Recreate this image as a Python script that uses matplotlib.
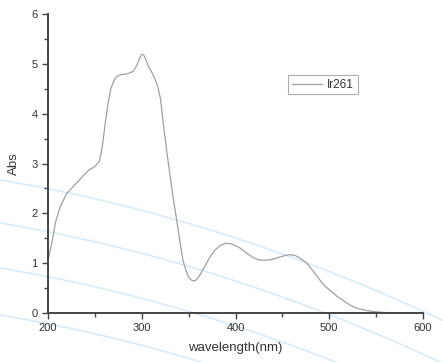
import numpy as np
import matplotlib
matplotlib.use("Agg")
import matplotlib.pyplot as plt
from matplotlib.ticker import MultipleLocator

plt.rcParams['font.family'] = ['Liberation Sans', 'DejaVu Sans']

wavelength = [200, 204, 208, 213, 220, 230, 236, 243, 250, 255, 258, 261, 264, 267, 270,
              273, 277, 282, 286, 291, 295, 298, 300, 302, 304, 307, 311, 314, 317, 320,
              323, 327, 330, 334, 337, 341, 344, 347, 350, 353, 355, 358, 362, 367, 373,
              378, 384, 390, 395, 400, 405, 412, 419, 426, 433, 440, 447, 454, 459, 464,
              469, 476, 483, 490, 496, 501, 508, 515, 522, 529, 535, 540, 547, 555, 565,
              580, 600]
absorb = [1.05, 1.4, 1.82, 2.13, 2.4, 2.6, 2.72, 2.86, 2.94, 3.05, 3.35, 3.8, 4.2, 4.5, 4.65,
          4.74, 4.78, 4.79, 4.81, 4.85, 4.98, 5.12, 5.19, 5.18, 5.1, 4.95, 4.82, 4.7, 4.55, 4.3,
          3.8, 3.2, 2.78, 2.25, 1.9, 1.4, 1.06, 0.86, 0.72, 0.66, 0.64, 0.66, 0.76, 0.93, 1.13,
          1.26, 1.36, 1.4, 1.39, 1.35, 1.3, 1.2, 1.11, 1.06, 1.06, 1.08, 1.12, 1.16, 1.17, 1.15,
          1.1, 1.0, 0.84, 0.66, 0.53, 0.45, 0.34, 0.25, 0.16, 0.1, 0.07, 0.05, 0.03, 0.015, 0.005,
          0.0, 0.0]
series_name = "Ir261"

W, H = 443, 362
fig = plt.figure(figsize=(W / 100, H / 100), dpi=100)

# decorative background arcs (pixel coordinates)
bg = fig.add_axes([0, 0, 1, 1], zorder=0)
bg.set_xlim(0, W)
bg.set_ylim(H, 0)
bg.axis('off')
px = np.linspace(0, W, 200)
for y0 in [180, 223, 268, 315]:
    bg.plot(px, y0 + 0.1655 * px + 0.000342 * px ** 2, color='#d9ebf6', lw=1.2)

ax = fig.add_axes([48 / W, 1 - 313 / H, 375 / W, 299 / H], zorder=1)
ax.patch.set_alpha(0)
ax.plot(wavelength, absorb, color='#a0a0a0', lw=0.9, label=series_name)
ax.set_xlim(200, 600)
ax.set_ylim(0, 6)
ax.xaxis.set_major_locator(MultipleLocator(100))
ax.xaxis.set_minor_locator(MultipleLocator(50))
ax.yaxis.set_major_locator(MultipleLocator(1))
ax.yaxis.set_minor_locator(MultipleLocator(0.5))
for s in ['top', 'right']:
    ax.spines[s].set_visible(False)
for s in ['left', 'bottom']:
    ax.spines[s].set_color('#444444')
    ax.spines[s].set_linewidth(1.4)
ax.tick_params(which='major', direction='out', length=4, width=1, colors='#444444',
               labelsize=8, labelcolor='#333333')
ax.tick_params(which='minor', direction='out', length=3, width=1, colors='#444444')
ax.set_xlabel('wavelength(nm)', fontsize=9.5, color='#333333', labelpad=6)
ax.set_ylabel('Abs', fontsize=9.5, color='#333333', labelpad=8)
leg = ax.legend(loc='center', bbox_to_anchor=(0.733, 0.763), fontsize=8.5,
                frameon=True, fancybox=False, handlelength=2.6, handletextpad=0.4,
                borderpad=0.3, borderaxespad=0)
leg.get_frame().set_edgecolor('#999999')
leg.get_frame().set_linewidth(0.8)
for t in leg.get_texts():
    t.set_color('#333333')

fig.savefig('out.png', dpi=100)
